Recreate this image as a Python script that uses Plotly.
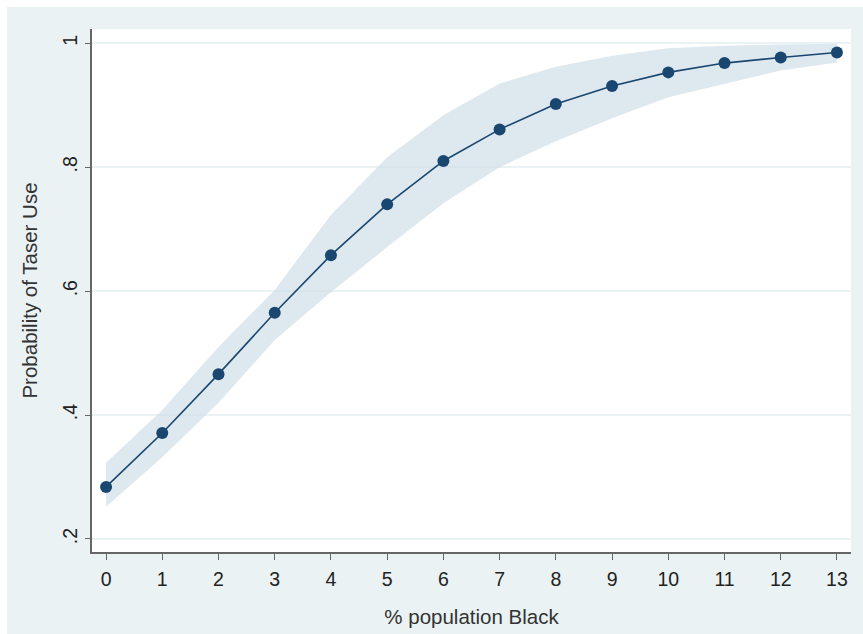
import plotly.graph_objects as go

pct_black = list(range(14))
prob = [0.284, 0.371, 0.466, 0.565, 0.658, 0.740, 0.810, 0.861, 0.902, 0.931, 0.953, 0.968, 0.977, 0.985]
upper = [0.323, 0.408, 0.510, 0.602, 0.723, 0.816, 0.884, 0.935, 0.962, 0.980, 0.992, 0.996, 0.998, 0.999]
lower = [0.252, 0.332, 0.420, 0.521, 0.598, 0.671, 0.742, 0.800, 0.842, 0.879, 0.913, 0.935, 0.956, 0.969]
ytick_vals = [0.2, 0.4, 0.6, 0.8, 1.0]
ytick_text = [".2", ".4", ".6", ".8", "1"]

navy = "#1a476f"
bg = "#eaf2f3"
font = "Liberation Sans, Arial, sans-serif"

fig = go.Figure()
fig.add_trace(go.Scatter(x=pct_black, y=upper, mode="lines", line=dict(width=0), hoverinfo="skip", showlegend=False))
fig.add_trace(go.Scatter(x=pct_black, y=lower, mode="lines", line=dict(width=0), fill="tonexty",
                         fillcolor="rgba(205,220,230,0.65)", hoverinfo="skip", showlegend=False))
fig.add_trace(go.Scatter(x=pct_black, y=prob, mode="lines+markers",
                         line=dict(color=navy, width=1.6),
                         marker=dict(color=navy, size=12), showlegend=False))

# white strips at top and left edge of the figure
fig.add_shape(type="rect", xref="paper", yref="paper", x0=-0.125, x1=-0.112, y0=-0.2, y1=1.07,
              fillcolor="white", line=dict(width=0), layer="above")
fig.add_shape(type="rect", xref="paper", yref="paper", x0=-0.125, x1=1.03, y0=1.042, y1=1.07,
              fillcolor="white", line=dict(width=0), layer="above")

fig.update_layout(
    width=863, height=634,
    margin=dict(l=92, r=12, t=29, b=82),
    paper_bgcolor=bg, plot_bgcolor="white",
    font=dict(family=font, size=19, color="#222"),
)
fig.update_xaxes(range=[-0.25, 13.25], tickvals=pct_black, ticks="outside", ticklen=6, tickwidth=1.2,
                 tickcolor="#666", showgrid=False, zeroline=False, showline=True, linecolor="#666",
                 linewidth=1.5, tickfont=dict(size=19.5, color="#222"), ticklabelstandoff=3,
                 automargin=False,
                 title=dict(text="% population Black", font=dict(size=20.5, color="#333"), standoff=20))
fig.update_yaxes(range=[0.179, 1.023], tickvals=ytick_vals, ticktext=ytick_text, tickangle=-90,
                 ticks="outside", ticklen=5, tickwidth=1.2, tickcolor="#666",
                 showgrid=True, gridcolor=bg, gridwidth=1.5, zeroline=False, showline=True,
                 linecolor="#666", linewidth=1.5, tickfont=dict(size=19.5, color="#222"),
                 automargin=False,
                 title=dict(text="Probability of Taser Use", font=dict(size=20.5, color="#333"), standoff=16))

fig.write_html("out.html")
